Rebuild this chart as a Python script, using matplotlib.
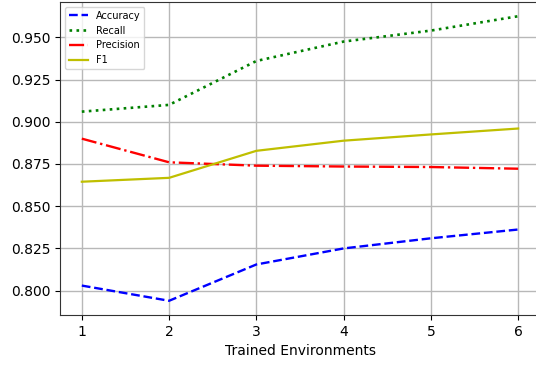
import matplotlib
matplotlib.use("Agg")
import matplotlib.pyplot as plt

# metric values per number of trained environments
envs = [1, 2, 3, 4, 5, 6]
accuracy = [0.803, 0.794, 0.8155, 0.825, 0.831, 0.8362]
recall = [0.906, 0.910, 0.936, 0.9475, 0.954, 0.9625]
precision = [0.890, 0.876, 0.874, 0.8735, 0.8732, 0.8722]
f1 = [0.8645, 0.8668, 0.8828, 0.8888, 0.8925, 0.896]

fig = plt.figure(figsize=(5.36, 3.65), dpi=100)
ax = fig.add_axes([60 / 536, 50 / 365, 480 / 536, 313 / 365])

ax.plot(envs, accuracy, color='blue', linestyle='--', linewidth=1.7, label='Accuracy')
ax.plot(envs, recall, color='green', linestyle=':', linewidth=1.9, label='Recall')
ax.plot(envs, precision, color='red', linestyle='-.', linewidth=1.7, label='Precision')
ax.plot(envs, f1, color='y', linestyle='-', linewidth=1.6, label='F1')

ax.set_xticks(envs)
ax.set_yticks([0.800, 0.825, 0.850, 0.875, 0.900, 0.925, 0.950])
ax.set_yticklabels(['0.800', '0.825', '0.850', '0.875', '0.900', '0.925', '0.950'])
ax.tick_params(labelsize=10)
ax.set_xlabel('Trained Environments', fontsize=10)
ax.grid(True, color='#b8b8b8', linewidth=1)
for s in ax.spines.values():
    s.set_color('#333333')
# the right edge runs off the figure
ax.spines['right'].set_visible(False)

ax.legend(loc='upper left', fontsize=7)
fig.savefig('out.png', dpi=100)
